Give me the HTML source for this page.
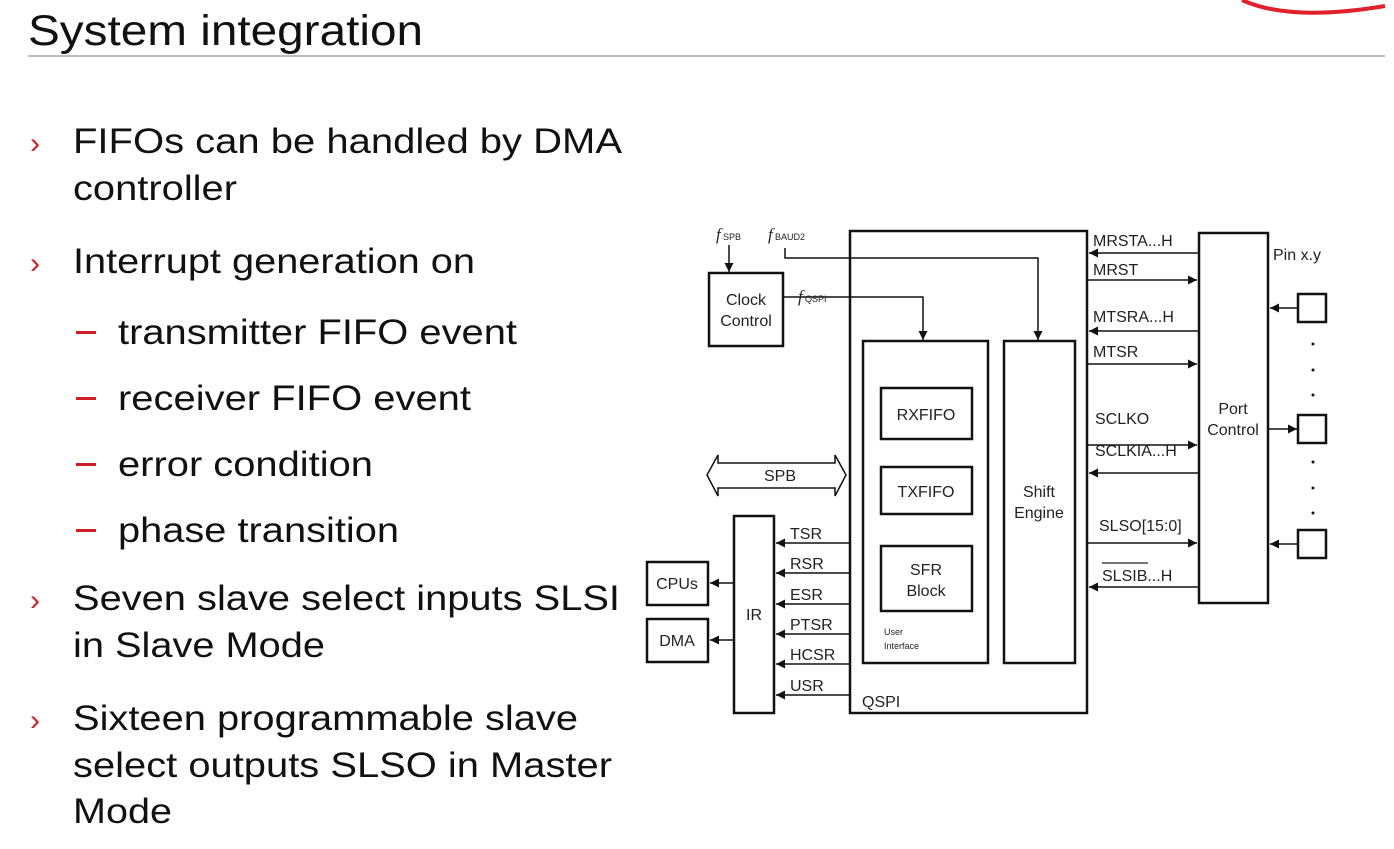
<!DOCTYPE html>
<html><head><meta charset="utf-8"><style>
html,body{margin:0;padding:0;background:#fff;}
svg{display:block;font-family:"Liberation Sans",Arial,sans-serif;}
</style></head><body>
<svg width="1394" height="849" viewBox="0 0 1394 849" xmlns="http://www.w3.org/2000/svg" font-family="'Liberation Sans', sans-serif">
<defs>
<marker id="a" viewBox="0 0 10 10" refX="10" refY="5" markerWidth="9" markerHeight="9" markerUnits="userSpaceOnUse" orient="auto"><path d="M0,0 L10,5 L0,10 z" fill="#111"/></marker>
</defs>
<rect width="1394" height="849" fill="#fff"/>
<path d="M1242,0 Q1290,22 1385,6" fill="none" stroke="#e0202a" stroke-width="4"/>
<text x="28" y="45" font-size="43" fill="#111" textLength="395" lengthAdjust="spacingAndGlyphs">System integration</text>
<line x1="28" y1="56" x2="1385" y2="56" stroke="#bbb" stroke-width="2"/>
<g font-size="35" fill="#111">
<text x="30" y="153" fill="#d01f2b" font-size="30">›</text>
<text x="73" y="153" textLength="549" lengthAdjust="spacingAndGlyphs">FIFOs can be handled by DMA</text>
<text x="73" y="200" textLength="164" lengthAdjust="spacingAndGlyphs">controller</text>
<text x="30" y="273" fill="#d01f2b" font-size="30">›</text>
<text x="73" y="273" textLength="402" lengthAdjust="spacingAndGlyphs">Interrupt generation on</text>
<g fill="#d01f2b"><rect x="76" y="331" width="20" height="3"/><rect x="76" y="397" width="20" height="3"/><rect x="76" y="463" width="20" height="3"/><rect x="76" y="529" width="20" height="3"/></g>
<text x="118" y="344" textLength="399" lengthAdjust="spacingAndGlyphs">transmitter FIFO event</text>
<text x="118" y="410" textLength="353" lengthAdjust="spacingAndGlyphs">receiver FIFO event</text>
<text x="118" y="476" textLength="255" lengthAdjust="spacingAndGlyphs">error condition</text>
<text x="118" y="542" textLength="281" lengthAdjust="spacingAndGlyphs">phase transition</text>
<text x="30" y="610" fill="#d01f2b" font-size="30">›</text>
<text x="73" y="610" textLength="547" lengthAdjust="spacingAndGlyphs">Seven slave select inputs SLSI</text>
<text x="73" y="657" textLength="252" lengthAdjust="spacingAndGlyphs">in Slave Mode</text>
<text x="30" y="730" fill="#d01f2b" font-size="30">›</text>
<text x="73" y="730" textLength="505" lengthAdjust="spacingAndGlyphs">Sixteen programmable slave</text>
<text x="73" y="777" textLength="539" lengthAdjust="spacingAndGlyphs">select outputs SLSO in Master</text>
<text x="73" y="823" textLength="99" lengthAdjust="spacingAndGlyphs">Mode</text>
</g>
<g fill="none" stroke="#111" stroke-width="2.5">
<rect x="850" y="231" width="237" height="482"/>
<rect x="709" y="273" width="74" height="73"/>
<rect x="863" y="341" width="125" height="322"/>
<rect x="1004" y="341" width="71" height="322"/>
<rect x="881" y="388" width="91" height="51"/>
<rect x="881" y="467" width="91" height="47"/>
<rect x="881" y="546" width="91" height="65"/>
<rect x="1199" y="233" width="69" height="370"/>
<rect x="734" y="516" width="40" height="197"/>
<rect x="647" y="562" width="61" height="43"/>
<rect x="647" y="619" width="61" height="43"/>
<rect x="1298" y="294" width="28" height="28"/>
<rect x="1298" y="415" width="28" height="28"/>
<rect x="1298" y="530" width="28" height="28"/>
</g>
<g fill="none" stroke="#111" stroke-width="1.5">
<line x1="729" y1="245" x2="729" y2="272" marker-end="url(#a)"/>
<polyline points="785,248 785,258 1038,258 1038,340" marker-end="url(#a)"/>
<polyline points="783,297 923,297 923,340" marker-end="url(#a)"/>
<line x1="1198" y1="253" x2="1089" y2="253" marker-end="url(#a)"/>
<line x1="1088" y1="280" x2="1197" y2="280" marker-end="url(#a)"/>
<line x1="1198" y1="331" x2="1089" y2="331" marker-end="url(#a)"/>
<line x1="1088" y1="364" x2="1197" y2="364" marker-end="url(#a)"/>
<line x1="1088" y1="445" x2="1197" y2="445" marker-end="url(#a)"/>
<line x1="1198" y1="473" x2="1089" y2="473" marker-end="url(#a)"/>
<line x1="1088" y1="543" x2="1197" y2="543" marker-end="url(#a)"/>
<line x1="1198" y1="587" x2="1089" y2="587" marker-end="url(#a)"/>
<line x1="1297" y1="308" x2="1270" y2="308" marker-end="url(#a)"/>
<line x1="1269" y1="429" x2="1297" y2="429" marker-end="url(#a)"/>
<line x1="1297" y1="544" x2="1270" y2="544" marker-end="url(#a)"/>
<line x1="849" y1="543" x2="776" y2="543" marker-end="url(#a)"/>
<line x1="849" y1="573" x2="776" y2="573" marker-end="url(#a)"/>
<line x1="849" y1="604" x2="776" y2="604" marker-end="url(#a)"/>
<line x1="849" y1="634" x2="776" y2="634" marker-end="url(#a)"/>
<line x1="849" y1="664" x2="776" y2="664" marker-end="url(#a)"/>
<line x1="849" y1="695" x2="776" y2="695" marker-end="url(#a)"/>
<line x1="733" y1="583" x2="710" y2="583" marker-end="url(#a)"/>
<line x1="733" y1="640" x2="710" y2="640" marker-end="url(#a)"/>
<path d="M707,475 L718,455 L718,463 L835,463 L835,455 L846,475 L835,496 L835,488 L718,488 L718,496 Z"/>
</g>
<g fill="#111"><circle cx="1313" cy="344" r="1.5"/><circle cx="1313" cy="370" r="1.5"/><circle cx="1313" cy="395" r="1.5"/><circle cx="1313" cy="462" r="1.5"/><circle cx="1313" cy="488" r="1.5"/><circle cx="1313" cy="513" r="1.5"/></g>
<g font-size="16" fill="#222">
<text x="716" y="240" font-style="italic" font-family="'Liberation Serif', serif" font-size="17">f</text><text x="723" y="240" font-size="9">SPB</text>
<text x="768" y="240" font-style="italic" font-family="'Liberation Serif', serif" font-size="17">f</text><text x="775" y="240" font-size="9">BAUD2</text>
<text x="798" y="302" font-style="italic" font-family="'Liberation Serif', serif" font-size="17">f</text><text x="805" y="302" font-size="9">QSPI</text>
<text x="746" y="305" text-anchor="middle">Clock</text>
<text x="746" y="326" text-anchor="middle">Control</text>
<text x="926" y="420" text-anchor="middle">RXFIFO</text>
<text x="926" y="497" text-anchor="middle">TXFIFO</text>
<text x="926" y="575" text-anchor="middle">SFR</text>
<text x="926" y="596" text-anchor="middle">Block</text>
<text x="884" y="635" font-size="9">User</text>
<text x="884" y="649" font-size="9">Interface</text>
<text x="1039" y="497" text-anchor="middle">Shift</text>
<text x="1039" y="518" text-anchor="middle">Engine</text>
<text x="1233" y="414" text-anchor="middle">Port</text>
<text x="1233" y="435" text-anchor="middle">Control</text>
<text x="1273" y="260">Pin x.y</text>
<text x="780" y="481" text-anchor="middle">SPB</text>
<text x="754" y="620" text-anchor="middle">IR</text>
<text x="677" y="589" text-anchor="middle">CPUs</text>
<text x="677" y="646" text-anchor="middle">DMA</text>
<text x="862" y="707">QSPI</text>
<text x="790" y="539">TSR</text>
<text x="790" y="569">RSR</text>
<text x="790" y="600">ESR</text>
<text x="790" y="630">PTSR</text>
<text x="790" y="660">HCSR</text>
<text x="790" y="691">USR</text>
<text x="1093" y="246">MRSTA...H</text>
<text x="1093" y="275">MRST</text>
<text x="1093" y="322">MTSRA...H</text>
<text x="1093" y="357">MTSR</text>
<text x="1095" y="424">SCLKO</text>
<text x="1095" y="456">SCLKIA...H</text>
<text x="1099" y="531">SLSO[15:0]</text>
<text x="1102" y="581">SLSIB...H</text>
</g>
<line x1="1102" y1="563" x2="1148" y2="563" stroke="#222" stroke-width="1.2"/>
</svg>
</body></html>
